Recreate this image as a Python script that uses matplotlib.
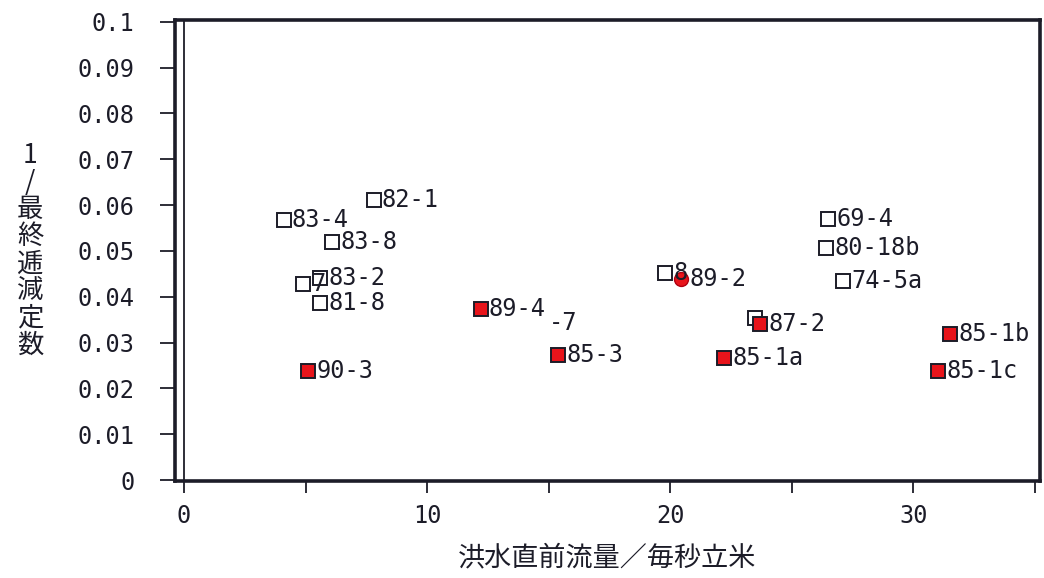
import matplotlib
matplotlib.use('Agg')
import matplotlib.pyplot as plt

# flood events: label, discharge before flood (m3/s), 1/final recession constant
labels = ['82-1', '83-4', '83-8', '7', '83-2', '81-8', '90-3',
          '-7', '89-4', '85-3', '8', '89-2', '', '87-2',
          '85-1a', '69-4', '80-18b', '74-5a', '85-1b', '85-1c']
flow = [7.8, 4.1, 6.1, 4.9, 5.6, 5.6, 5.1,
        15.0, 12.2, 15.4, 19.8, 20.45, 23.5, 23.7,
        22.2, 26.5, 26.4, 27.1, 31.5, 31.0]
recip = [0.0611, 0.0568, 0.0520, 0.0428, 0.0441, 0.0386, 0.0238,
         0.0343, 0.0373, 0.0273, 0.0452, 0.0439, 0.0354, 0.0340,
         0.0266, 0.0570, 0.0507, 0.0435, 0.0319, 0.0238]
# 0 = open square, 1 = red square, 2 = red dot only, 3 = text only
kind = [0, 0, 0, 0, 0, 0, 1,
        3, 1, 1, 0, 2, 0, 1,
        1, 0, 0, 0, 1, 1]

mono = 'DejaVu Sans Mono'
cjk = ['Noto Sans CJK JP', 'DejaVu Sans']
ink = '#1c1c28'

fig = plt.figure(figsize=(10.44, 5.78), dpi=100)
ax = fig.add_axes([0.1676, 0.1678, 0.8284, 0.7976])

for i, lab in enumerate(labels):
    k = kind[i]
    if k == 0:
        ax.plot(flow[i], recip[i], marker='s', ms=10, mfc='white', mec=ink,
                mew=1.4, ls='none', zorder=3)
    elif k == 1:
        ax.plot(flow[i], recip[i], marker='s', ms=10, mfc='#e8141b', mec=ink,
                mew=1.4, ls='none', zorder=3)
    elif k == 2:
        ax.plot(flow[i], recip[i], marker='o', ms=10, mfc='#e8141b', mec='#b00010',
                mew=1.0, ls='none', zorder=3)
    off = 0 if k == 3 else 6
    ax.annotate(lab, (flow[i], recip[i]), xytext=(off, 0), textcoords='offset points',
                ha='left', va='center', fontsize=17, family=mono, color=ink,
                zorder=4)

ax.axvline(0, color=ink, lw=1.3, zorder=2)

ax.set_xlim(-0.37, 35.2)
ax.set_ylim(-0.0002, 0.1004)
ax.set_xticks([0, 5, 10, 15, 20, 25, 30, 35])
ax.set_xticklabels(['0', '', '10', '', '20', '', '30', ''])
ax.set_yticks([i / 100 for i in range(11)])
ax.set_yticklabels(['0'] + ['%.2f' % (i / 100) for i in range(1, 10)] + ['0.1'])

for s in ax.spines.values():
    s.set_linewidth(2.6)
    s.set_color(ink)
ax.tick_params(axis='y', direction='out', length=11, width=1.3, pad=18, labelsize=17,
               color=ink)
ax.tick_params(axis='x', direction='out', length=8.5, width=1.3, pad=8, labelsize=17,
               color=ink)
for t in ax.get_xticklabels() + ax.get_yticklabels():
    t.set_family(mono)
    t.set_color(ink)

ax.set_xlabel('洪水直前流量／毎秒立米', family=cjk, fontsize=19.5, labelpad=12, color=ink)
fig.text(0.029, 0.567, '\n'.join(['1', '/', '最', '終', '逓', '減', '定', '数']),
         family=cjk, fontsize=19, ha='center', va='center', linespacing=1.0,
         color=ink)

fig.savefig('out.png', dpi=100, facecolor='white')
